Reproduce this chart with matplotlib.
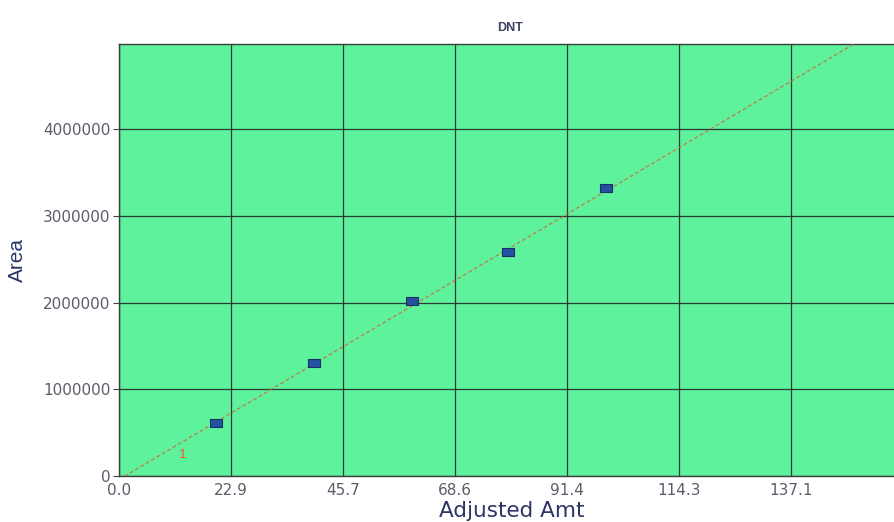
import numpy as np
import matplotlib
matplotlib.use("Agg")
import matplotlib.pyplot as plt

plt.rcParams['font.family'] = ['Liberation Sans', 'DejaVu Sans']

# calibration standards
amount = [19.8, 39.7, 59.7, 79.4, 99.4]
area = [610000, 1300000, 2020000, 2580000, 3320000]

# linear fit through the standards
slope = 33470.0
intercept = -40000.0

xticks = [0.0, 22.9, 45.7, 68.6, 91.4, 114.3, 137.1]
xticklabels = ['0.0', '22.9', '45.7', '68.6', '91.4', '114.3', '137.1']
yticks = [0, 1000000, 2000000, 3000000, 4000000]

navy = '#2c3566'
fig = plt.figure(figsize=(8.94, 5.22), dpi=100)
ax = fig.add_axes([0.1331, 0.0881, 0.877, 0.8276])
ax.set_facecolor('#5ef29c')

ax.set_xlim(0, 160)
ax.set_ylim(0, 4980000)

xs = np.array([0.0, 160.0])
ax.plot(xs, slope * xs + intercept, color='#d8602c', lw=0.9, ls=(0, (3, 2)), alpha=0.8, zorder=3)

rect = [(-1.5, -1), (1.5, -1), (1.5, 1), (-1.5, 1), (-1.5, -1)]
ax.plot(amount, area, ls='none', marker=rect, markersize=9,
        mfc='#2452a0', mec='#1a2f66', mew=0.8, zorder=4)

ax.text(13.0, 240000, '1', color='#f05a1e', fontsize=9.5, ha='center', va='center')

ax.set_xticks(xticks)
ax.set_xticklabels(xticklabels, family='DejaVu Sans')
ax.set_yticks(yticks)
ax.set_yticklabels([str(v) for v in yticks], family='DejaVu Sans')
ax.grid(True, color='#2a3a34', lw=0.9)
ax.set_axisbelow(True)
ax.tick_params(axis='x', length=0, pad=5, labelsize=11, labelcolor='#5a5e6a')
ax.tick_params(axis='y', length=4, width=0.8, color='#444', pad=2, labelsize=11, labelcolor='#5a5e6a')
for s in ax.spines.values():
    s.set_color('#3a3f3c')
    s.set_linewidth(1.0)

ax.set_xlabel('Adjusted Amt', fontsize=15.5, color=navy, family='DejaVu Sans')
ax.xaxis.set_label_coords(0.501, -0.058)
ax.set_ylabel('Area', fontsize=15, color=navy,
              family=['Liberation Sans Narrow', 'Liberation Sans', 'DejaVu Sans'])
ax.yaxis.set_label_coords(-0.117, 0.5)
fig.text(0.571, 0.946, 'DNT', fontsize=9, fontweight='bold', color='#3a4260', ha='center', va='center')

fig.savefig('out.png', dpi=100)
